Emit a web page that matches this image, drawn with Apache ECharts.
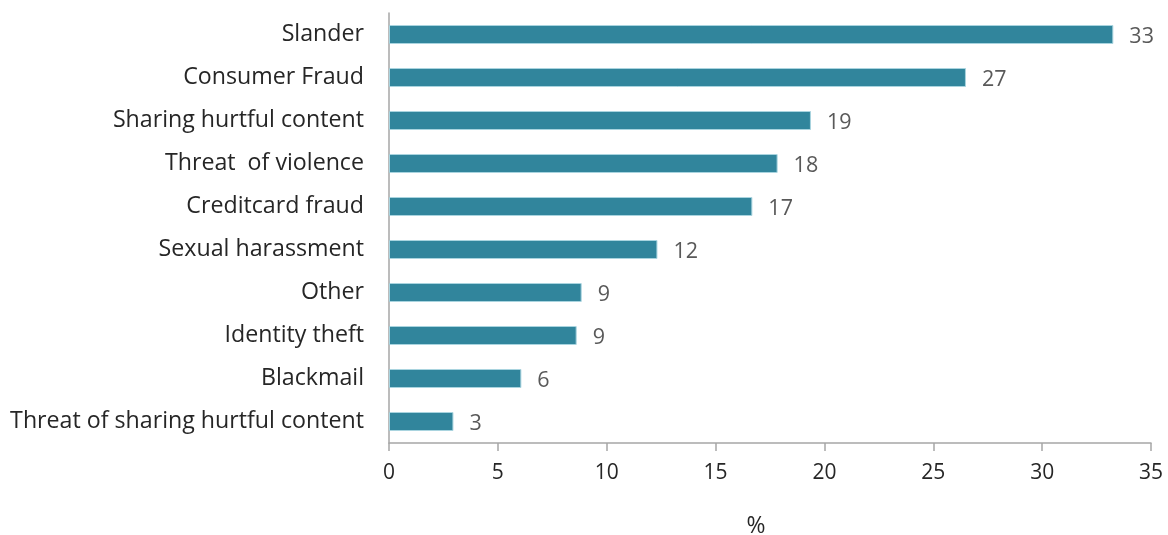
<!DOCTYPE html>
<html>
<head>
<meta charset="utf-8">
<script src="https://cdn.jsdelivr.net/npm/echarts@6/dist/echarts.min.js"></script>
<style>
  html, body { margin: 0; padding: 0; background: #fff; }
  #chart { width: 1168px; height: 535px; }
</style>
</head>
<body>
<div id="chart"></div>
<script>
// categories listed bottom to top (category axis starts at the bottom)
var categories = [
  "Threat of sharing hurtful content",
  "Blackmail",
  "Identity theft",
  "Other",
  "Sexual harassment",
  "Creditcard fraud",
  "Threat  of violence",
  "Sharing hurtful content",
  "Consumer Fraud",
  "Slander"
];
var values = [2.96, 6.08, 8.62, 8.85, 12.33, 16.69, 17.85, 19.38, 26.5, 33.27];
var xTicks = [0, 35, 5]; // min, max, interval

window.onload = function () {
  var myChart = echarts.init(document.getElementById("chart"));
  var font = "Open Sans";
  var option = {
    animation: false,
    grid: { left: 389, right: 17, top: 13, bottom: 92, containLabel: false },
    title: {
      text: "%",
      left: 751,
      top: 510,
      textAlign: "center",
      textStyle: { fontFamily: font, fontSize: 23, fontWeight: "normal", color: "#262626" }
    },
    xAxis: {
      type: "value",
      min: xTicks[0],
      max: xTicks[1],
      interval: xTicks[2],
      axisLine: { show: true, lineStyle: { color: "#a6a6a6", width: 1.5 } },
      axisTick: { show: true, length: 8, lineStyle: { color: "#a6a6a6", width: 1.5 } },
      splitLine: { show: false },
      axisLabel: { margin: 20, fontFamily: font, fontSize: 21, color: "#262626" }
    },
    yAxis: {
      type: "category",
      data: categories,
      axisLine: { show: true, lineStyle: { color: "#a6a6a6", width: 1.5 } },
      axisTick: { show: false },
      axisLabel: { margin: 25, padding: [5, 0, 0, 0], fontFamily: font, fontSize: 23.2, color: "#262626" }
    },
    series: [
      {
        type: "bar",
        data: values,
        barWidth: 19,
        itemStyle: { color: "#31859c", borderColor: "#a9d4df", borderWidth: 1 },
        label: {
          show: true,
          position: "right",
          distance: 16,
          fontFamily: font,
          fontSize: 21.5,
          color: "#595959",
          offset: [0, 2],
          formatter: function (p) { return Math.round(p.value); }
        }
      }
    ]
  };
  myChart.setOption(option);
};
</script>
</body>
</html>
